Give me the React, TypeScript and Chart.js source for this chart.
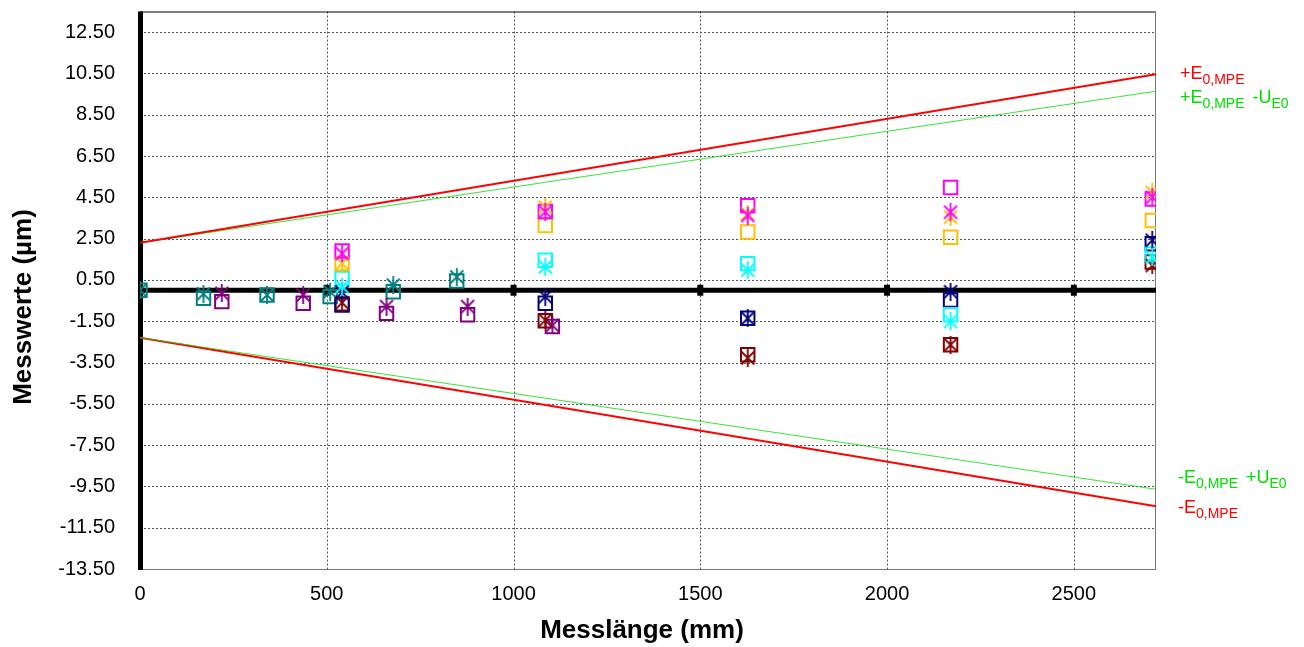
import React, { useEffect, useRef } from "react";
import { Chart, registerables } from "chart.js";

Chart.register(...registerables);

// ---- axis ranges & ticks ----
const X_MIN = 0;
const X_MAX = 2720;
const Y_MIN = -13.5;
const Y_MAX = 13.5;
const xTicks = [0, 500, 1000, 1500, 2000, 2500];
const yTicks = [-13.5, -11.5, -9.5, -7.5, -5.5, -3.5, -1.5, 0.5, 2.5, 4.5, 6.5, 8.5, 10.5, 12.5];

// ---- measured values (µm) ----
const mainLengths = [541, 1085, 1627, 2170, 2710];
const magentaSquare = [1.9, 3.81, 4.1, 4.98, 4.42];
const magentaStar = [1.78, 3.8, 3.62, 3.78, 4.5];
const orangeSquare = [1.29, 3.14, 2.82, 2.57, 3.38];
const orangeStar = [1.3, 4.02, 3.7, 3.54, 4.74];
const cyanSquare = [0.57, 1.45, 1.29, -1.19, 1.76];
const cyanStar = [0.17, 1.13, 0.97, -1.51, 1.6];
const navySquare = [-0.72, -0.63, -1.36, -0.47, 2.25];
const navyStar = [-0.1, -0.31, -1.36, -0.07, 2.42];
const maroonSquare = [-0.66, -1.48, -3.12, -2.64, 1.37];
const maroonStar = [-0.6, -1.45, -3.28, -2.64, 1.2];

const purpleLengths = [219, 437, 660, 877, 1104];
const purpleSquare = [-0.55, -0.63, -1.12, -1.19, -1.76];
const purpleStar = [-0.15, -0.23, -0.79, -0.79, -1.7];

const tealLengths = [0, 170, 340, 509, 678, 848];
const tealSquare = [0.0, -0.39, -0.23, -0.31, -0.07, 0.45];
const tealStar = [0.0, -0.17, -0.23, -0.07, 0.25, 0.65];

// ---- limit lines (end points) ----
const limitLengths = [0, 2720];
const upperMPE = [2.3, 10.46];
const upperMPEminusU = [2.3, 9.64];
const lowerMPEplusU = [-2.3, -9.64];
const lowerMPE = [-2.3, -10.46];

const RED = "#FF0000";
const GREEN = "#00E000";

const seriesColors = {
  magenta: "#FF00FF",
  orange: "#FFC000",
  cyan: "#00FFFF",
  navy: "#000080",
  maroon: "#800000",
  purple: "#800080",
  teal: "#008080",
};

function makeStar(color: string): HTMLCanvasElement {
  const c = document.createElement("canvas");
  c.width = 16;
  c.height = 18;
  const ctx = c.getContext("2d")!;
  ctx.strokeStyle = color;
  ctx.lineWidth = 1.8;
  ctx.beginPath();
  ctx.moveTo(8, 0);
  ctx.lineTo(8, 18);
  ctx.moveTo(1.5, 2.5);
  ctx.lineTo(14.5, 15.5);
  ctx.moveTo(14.5, 2.5);
  ctx.lineTo(1.5, 15.5);
  ctx.stroke();
  return c;
}

function pts(xs: number[], ys: number[]) {
  return xs.map((x, i) => ({ x, y: ys[i] }));
}

function zeroPadding(axis: any) {
  axis.paddingTop = 0;
  axis.paddingBottom = 0;
  axis.paddingLeft = 0;
  axis.paddingRight = 0;
}

export default function App() {
  const ref = useRef<HTMLCanvasElement | null>(null);

  useEffect(() => {
    document.body.style.margin = "0";
    const canvas = ref.current!;

    const squareDs = (label: string, color: string, xs: number[], ys: number[]) => ({
      label,
      type: "scatter" as const,
      data: pts(xs, ys),
      pointStyle: "rect",
      pointRadius: 9.5,
      pointHoverRadius: 9.5,
      borderColor: color,
      backgroundColor: "rgba(0,0,0,0)",
      pointBorderWidth: 2,
      showLine: false,
      order: 1,
    });
    const starDs = (label: string, color: string, xs: number[], ys: number[]) => ({
      label,
      type: "scatter" as const,
      data: pts(xs, ys),
      pointStyle: makeStar(color),
      pointRadius: 8,
      borderColor: color,
      backgroundColor: color,
      showLine: false,
      order: 0,
    });
    const lineDs = (label: string, color: string, ys: number[], w: number) => ({
      label,
      type: "scatter" as const,
      data: pts(limitLengths, ys),
      showLine: true,
      borderColor: color,
      backgroundColor: color,
      borderWidth: w,
      pointRadius: 0,
      order: 5,
    });

    const backgroundPlugin = {
      id: "bg",
      beforeDatasetsDraw(chart: any) {
        const { ctx, chartArea } = chart;
        const xs = chart.scales.x;
        const ys = chart.scales.y;
        const { left, right, top, bottom } = chartArea;
        ctx.save();
        // dotted grid
        ctx.strokeStyle = "#555";
        ctx.lineWidth = 1;
        ctx.setLineDash([2, 2]);
        yTicks.forEach((v) => {
          if (v === Y_MIN) return;
          const y = Math.round(ys.getPixelForValue(v)) + 0.5;
          ctx.beginPath();
          ctx.moveTo(left, y);
          ctx.lineTo(right, y);
          ctx.stroke();
        });
        xTicks.forEach((v) => {
          if (v === X_MIN) return;
          const x = Math.round(xs.getPixelForValue(v)) + 0.5;
          ctx.beginPath();
          ctx.moveTo(x, top);
          ctx.lineTo(x, bottom);
          ctx.stroke();
        });
        ctx.setLineDash([]);
        // frame
        ctx.strokeStyle = "#000";
        ctx.beginPath();
        ctx.moveTo(left, top + 0.5);
        ctx.lineTo(right, top + 0.5);
        ctx.stroke();
        ctx.strokeStyle = "#777";
        ctx.beginPath();
        ctx.moveTo(right - 0.5, top);
        ctx.lineTo(right - 0.5, bottom);
        ctx.moveTo(left, bottom + 0.5);
        ctx.lineTo(right, bottom + 0.5);
        ctx.stroke();
        // thick left axis
        ctx.fillStyle = "#000";
        ctx.fillRect(left - 2, top, 5, bottom - top + 1);
        // thick zero line with tick blocks
        const y0 = ys.getPixelForValue(0);
        ctx.fillRect(left, y0 - 2.5, right - left, 5);
        xTicks.forEach((v) => {
          if (v === X_MIN) return;
          const x = xs.getPixelForValue(v);
          ctx.fillRect(x - 3, y0 - 5.5, 6, 11);
        });
        ctx.restore();
      },
      afterDraw(chart: any) {
        const { ctx, chartArea } = chart;
        ctx.save();
        // axis titles
        ctx.fillStyle = "#000";
        ctx.font = "bold 26px Arial, 'Liberation Sans', sans-serif";
        ctx.textAlign = "center";
        ctx.textBaseline = "alphabetic";
        ctx.fillText("Messlänge (mm)", 642, 638);
        ctx.save();
        ctx.translate(31, 307);
        ctx.rotate(-Math.PI / 2);
        ctx.fillText("Messwerte (µm)", 0, 0);
        ctx.restore();

        // right-hand labels with subscripts
        const drawParts = (x: number, y: number, color: string, parts: [string, string][]) => {
          ctx.fillStyle = color;
          ctx.textAlign = "left";
          let cx = x;
          parts.forEach(([main, sub], i) => {
            if (i > 0) cx += 8;
            ctx.font = "18px Arial, 'Liberation Sans', sans-serif";
            ctx.fillText(main, cx, y);
            cx += ctx.measureText(main).width;
            ctx.font = "14px Arial, 'Liberation Sans', sans-serif";
            ctx.fillText(sub, cx, y + 5);
            cx += ctx.measureText(sub).width;
          });
        };
        const lx = chartArea.right + 24;
        drawParts(lx, 79, RED, [["+E", "0,MPE"]]);
        drawParts(lx, 103, GREEN, [["+E", "0,MPE"], ["-U", "E0"]]);
        drawParts(lx - 2, 483, GREEN, [["-E", "0,MPE"], ["+U", "E0"]]);
        drawParts(lx - 2, 513, RED, [["-E", "0,MPE"]]);
        ctx.restore();
      },
    };

    const chart = new Chart(canvas, {
      type: "scatter",
      data: {
        datasets: [
          starDs("magenta *", seriesColors.magenta, mainLengths, magentaStar),
          starDs("orange *", seriesColors.orange, mainLengths, orangeStar),
          starDs("cyan *", seriesColors.cyan, mainLengths, cyanStar),
          starDs("navy *", seriesColors.navy, mainLengths, navyStar),
          starDs("maroon *", seriesColors.maroon, mainLengths, maroonStar),
          starDs("purple *", seriesColors.purple, purpleLengths, purpleStar),
          starDs("teal *", seriesColors.teal, tealLengths, tealStar),
          squareDs("magenta", seriesColors.magenta, mainLengths, magentaSquare),
          squareDs("orange", seriesColors.orange, mainLengths, orangeSquare),
          squareDs("cyan", seriesColors.cyan, mainLengths, cyanSquare),
          squareDs("navy", seriesColors.navy, mainLengths, navySquare),
          squareDs("maroon", seriesColors.maroon, mainLengths, maroonSquare),
          squareDs("purple", seriesColors.purple, purpleLengths, purpleSquare),
          squareDs("teal", seriesColors.teal, tealLengths, tealSquare),
          lineDs("+E0,MPE", RED, upperMPE, 2),
          lineDs("+E0,MPE -UE0", GREEN, upperMPEminusU, 0.8),
          lineDs("-E0,MPE +UE0", GREEN, lowerMPEplusU, 0.8),
          lineDs("-E0,MPE", RED, lowerMPE, 2),
        ] as any,
      },
      options: {
        responsive: false,
        animation: false,
        layout: { padding: { top: 8, right: 148, bottom: 0, left: 0 } },
        plugins: {
          legend: { display: false },
          tooltip: { enabled: false },
          title: { display: false },
        },
        scales: {
          x: {
            type: "linear",
            min: X_MIN,
            max: X_MAX,
            grid: { display: false, drawTicks: false },
            border: { display: false },
            afterBuildTicks: (axis: any) => {
              axis.ticks = xTicks.map((v) => ({ value: v }));
            },
            afterFit: (axis: any) => {
              axis.height = 78;
              zeroPadding(axis);
            },
            ticks: {
              color: "#000",
              padding: 13,
              maxRotation: 0,
              autoSkip: false,
              font: { family: "Arial, 'Liberation Sans', sans-serif", size: 20 },
              callback: (v: any) => String(v),
            },
          },
          y: {
            type: "linear",
            min: Y_MIN,
            max: Y_MAX,
            grid: { display: false, drawTicks: false },
            border: { display: false },
            afterBuildTicks: (axis: any) => {
              axis.ticks = yTicks.map((v) => ({ value: v }));
            },
            afterFit: (axis: any) => {
              axis.width = 140;
              zeroPadding(axis);
            },
            ticks: {
              color: "#000",
              padding: 25,
              autoSkip: false,
              font: { family: "Arial, 'Liberation Sans', sans-serif", size: 20 },
              callback: (v: any) => Number(v).toFixed(2),
            },
          },
        },
      } as any,
      plugins: [backgroundPlugin],
    });

    return () => chart.destroy();
  }, []);

  return (
    <div style={{ width: 1304, height: 647 }}>
      <canvas ref={ref} width={1304} height={647} style={{ display: "block" }} />
    </div>
  );
}
